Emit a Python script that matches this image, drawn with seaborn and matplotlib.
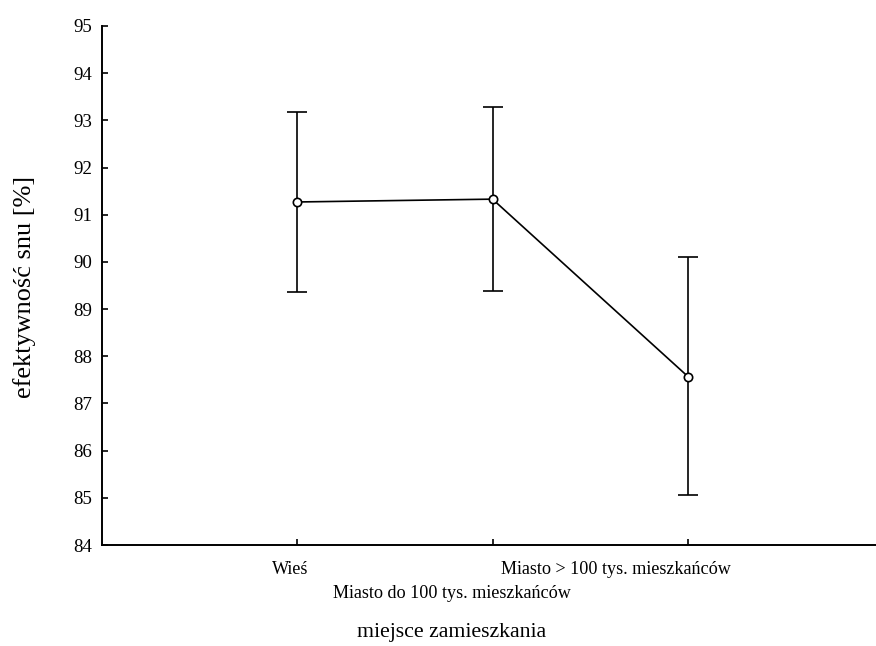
import matplotlib
matplotlib.use("Agg")
import matplotlib.pyplot as plt
import matplotlib.transforms as mtransforms
import seaborn as sns
import pandas as pd

# Mean sleep efficiency by place of residence, with interval bounds
categories = ["Wieś", "Miasto do 100 tys. mieszkańców", "Miasto > 100 tys. mieszkańców"]
means = [91.27, 91.33, 87.57]
lower = [89.37, 89.39, 85.06]
upper = [93.17, 93.28, 90.10]
y_ticks = [84, 85, 86, 87, 88, 89, 90, 91, 92, 93, 94, 95]

sns.set_theme(style="white")
plt.rcParams["font.family"] = ["Liberation Serif", "DejaVu Serif"]

fig = plt.figure(figsize=(8.76, 6.46), dpi=100)
ax = fig.add_axes([0.116, 0.1563, 0.884, 0.8035])

df = pd.DataFrame({"pos": list(range(len(categories))), "mean": means,
                   "lower": lower, "upper": upper})

yerr = [df["mean"] - df["lower"], df["upper"] - df["mean"]]
ax.errorbar(df["pos"], df["mean"], yerr=yerr, fmt="none", ecolor="black",
            elinewidth=1.2, capsize=7, capthick=1.2, zorder=2)
sns.lineplot(data=df, x="pos", y="mean", color="black", lw=1.2, marker="o",
             markersize=6, markerfacecolor="white", markeredgecolor="black",
             markeredgewidth=1.2, ax=ax, zorder=3)

ax.set_xlim(-1, 2.962)
ax.set_ylim(84, 95)
ax.set_yticks(y_ticks)
ax.set_xticks(df["pos"])
ax.set_xticklabels(categories)

for s in ["top", "right"]:
    ax.spines[s].set_visible(False)
for s in ["left", "bottom"]:
    ax.spines[s].set_color("black")
    ax.spines[s].set_linewidth(1.4)

ax.tick_params(direction="in", length=4, width=1.2, colors="black",
               bottom=True, left=True)
ax.tick_params(axis="x", pad=11.5, labelsize=13.1)
ax.tick_params(axis="y", pad=7, labelsize=13.6)

# shift category labels (pixels): the middle one sits on a lower row
label_shift = [(-7, 0), (-41, -24), (-72, 0)]
for lab, (dx, dy) in zip(ax.get_xticklabels(), label_shift):
    off = mtransforms.ScaledTranslation(dx / fig.dpi, dy / fig.dpi, fig.dpi_scale_trans)
    lab.set_transform(lab.get_transform() + off)

ax.set_xlabel("miejsce zamieszkania", fontsize=15.7, color="black", va="center")
ax.set_ylabel("efektywność snu [%]", fontsize=18.9, color="black", va="center")
ax.xaxis.set_label_coords(0.452, -0.168)
ax.yaxis.set_label_coords(-0.099, 0.497)
ax.grid(False)

fig.savefig("out.png", dpi=100, facecolor="white")
